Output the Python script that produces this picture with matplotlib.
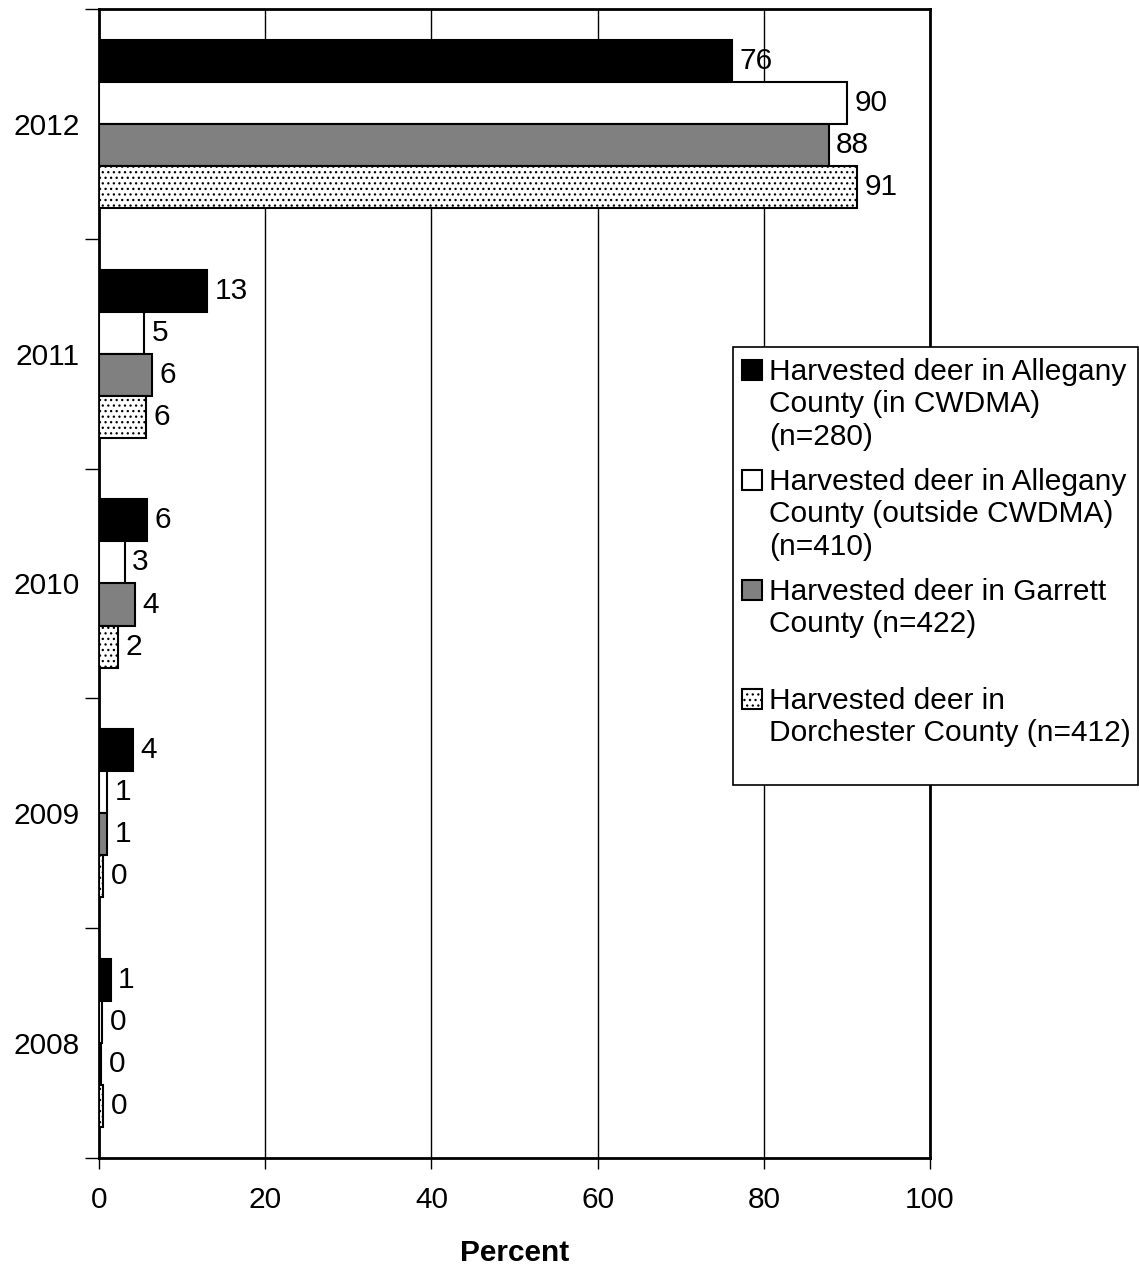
import numpy as np
import matplotlib
matplotlib.use("Agg")
import matplotlib.pyplot as plt
from matplotlib.patches import Rectangle

plt.rcParams["font.family"] = ["Liberation Sans", "DejaVu Sans"]
plt.rcParams["hatch.linewidth"] = 0.9
plt.rcParams["hatch.color"] = "#333333"

# ── data ──
years = ["2008", "2009", "2010", "2011", "2012"]
allegany_in = [1.4, 4.1, 5.8, 13.0, 76.2]
allegany_out = [0.4, 1.0, 3.1, 5.4, 90.0]
garrett = [0.3, 1.0, 4.3, 6.4, 87.8]
dorchester = [0.5, 0.5, 2.3, 5.7, 91.2]

series_labels = [
    "Harvested deer in Allegany\nCounty (in CWDMA)\n(n=280)",
    "Harvested deer in Allegany\nCounty (outside CWDMA)\n(n=410)",
    "Harvested deer in Garrett\nCounty (n=422)",
    "Harvested deer in\nDorchester County (n=412)",
]
series = [allegany_in, allegany_out, garrett, dorchester]
styles = [
    dict(facecolor="black", hatch=None),
    dict(facecolor="white", hatch=None),
    dict(facecolor="#808080", hatch=None),
    dict(facecolor="white", hatch="..."),
]

W, H = 1139, 1267
fig = plt.figure(figsize=(W / 100, H / 100), dpi=100)
ax = fig.add_axes([99 / W, 1 - 1158 / H, (930 - 99) / W, (1158 - 9) / H])

FS = 21.5
bar_h = 0.183
offsets = [1.5, 0.5, -0.5, -1.5]
y = np.arange(len(years))

for vals, st, off in zip(series, styles, offsets):
    bars = ax.barh(y + off * bar_h, vals, height=bar_h, color=st["facecolor"],
                   edgecolor="black", linewidth=1.5, hatch=st["hatch"], zorder=3)
    for b, v in zip(bars, vals):
        ax.text(b.get_width() + 0.9, b.get_y() + b.get_height() / 2, f"{round(v):d}",
                va="center", ha="left", fontsize=FS, zorder=4)

ax.set_xlim(0, 100)
ax.set_ylim(-0.5, len(years) - 0.5)
ax.set_xticks(np.arange(0, 101, 20))
ax.tick_params(axis="x", direction="out", length=8, width=1, labelsize=FS, pad=12)
ax.set_yticks(y)
ax.set_yticklabels(years)
ax.tick_params(axis="y", which="major", length=0, labelsize=FS, pad=14)
ax.set_yticks(np.arange(-0.5, len(years)), minor=True)
ax.tick_params(axis="y", which="minor", direction="out", length=10, width=1)
ax.xaxis.grid(True, color="black", linewidth=1)
ax.set_axisbelow(True)
for s in ax.spines.values():
    s.set_linewidth(2)
ax.set_xlabel("Percent", fontsize=FS, fontweight="bold", labelpad=18)

# ── legend box drawn by hand so handles sit on the first text line ──
fig.add_artist(Rectangle((733 / W, 1 - 785 / H), (1138 - 733) / W, (785 - 347) / H,
                         transform=fig.transFigure, facecolor="white",
                         edgecolor="black", linewidth=1.2, zorder=5))
entry_top = [360, 470, 580, 689]
for lab, st, top in zip(series_labels, styles, entry_top):
    fig.add_artist(Rectangle((742 / W, 1 - (top + 20) / H), 20 / W, 20 / H,
                             transform=fig.transFigure, facecolor=st["facecolor"],
                             edgecolor="black", linewidth=1.5, hatch=st["hatch"], zorder=6))
    fig.text(769 / W, 1 - (top - 2) / H, lab, fontsize=FS, va="top", ha="left",
             linespacing=1.2, zorder=6)

fig.savefig("out.png", dpi=100)
